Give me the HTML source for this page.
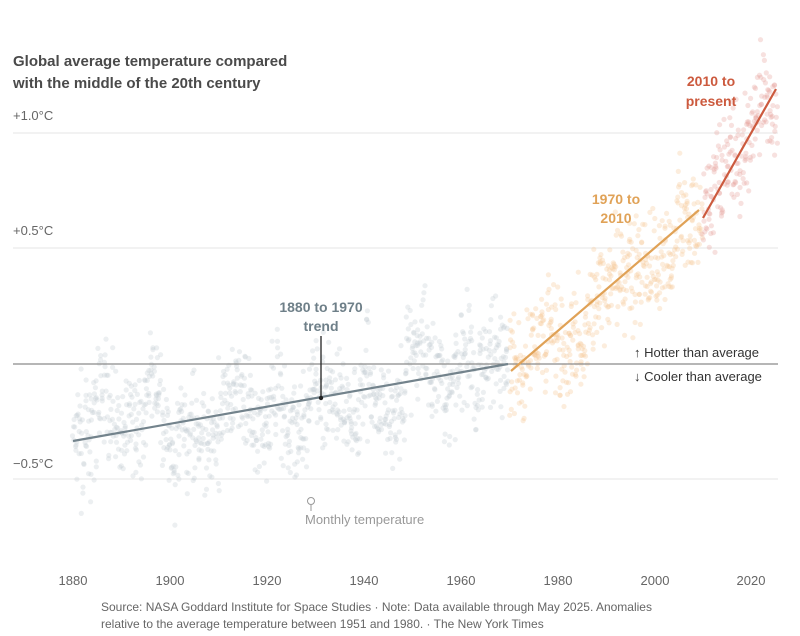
<!DOCTYPE html>
<html><head><meta charset="utf-8">
<style>
body{margin:0;background:#fff;width:800px;height:636px;overflow:hidden;font-family:"Liberation Sans",sans-serif}
</style></head><body>
<svg id="s" width="800" height="636" xmlns="http://www.w3.org/2000/svg" style="position:absolute;left:0;top:0">
<g stroke="#e6e6e6" stroke-width="1">
<line x1="13" y1="133" x2="778" y2="133"/>
<line x1="13" y1="248" x2="778" y2="248"/>
<line x1="13" y1="479" x2="778" y2="479"/>
</g>
<g id="dots"></g>
<line x1="13" y1="364" x2="778" y2="364" stroke="#8a8a8a" stroke-width="1.3"/>
<line x1="73" y1="441" x2="508" y2="364" stroke="#73838c" stroke-width="2.2"/>
<line x1="511" y1="371" x2="699" y2="210" stroke="#e0a257" stroke-width="2.2"/>
<line x1="703" y1="218" x2="776" y2="89" stroke="#cc5a3e" stroke-width="2.2"/>
<line x1="321" y1="336" x2="321" y2="398" stroke="#222" stroke-width="1.3"/>
<circle cx="321" cy="398" r="2.2" fill="#222"/>
<circle cx="311" cy="501" r="3.5" fill="#fff" stroke="#999" stroke-width="1"/>
<line x1="311" y1="505" x2="311" y2="511" stroke="#999"/>
<g font-family="Liberation Sans,sans-serif">
<text x="13" y="66" font-size="15" font-weight="bold" fill="#4a4a4a">Global average temperature compared</text>
<text x="13" y="88" font-size="15" font-weight="bold" fill="#4a4a4a">with the middle of the 20th century</text>
<text x="13" y="120" font-size="13" fill="#666">+1.0°C</text>
<text x="13" y="235" font-size="13" fill="#666">+0.5°C</text>
<text x="13" y="468" font-size="13" fill="#666">−0.5°C</text>
<g font-size="13" fill="#666" text-anchor="middle">
<text x="73" y="585">1880</text><text x="170" y="585">1900</text><text x="267" y="585">1920</text><text x="364" y="585">1940</text><text x="461" y="585">1960</text><text x="558" y="585">1980</text><text x="655" y="585">2000</text><text x="751" y="585">2020</text>
</g>
<g font-size="14" font-weight="bold" text-anchor="middle">
<text x="321" y="312" fill="#6e7f88">1880 to 1970</text>
<text x="321" y="331" fill="#6e7f88">trend</text>
<text x="616" y="204" fill="#e0a257">1970 to</text>
<text x="616" y="223" fill="#e0a257">2010</text>
<text x="711" y="86" fill="#cc5a3e">2010 to</text>
<text x="711" y="106" fill="#cc5a3e">present</text>
</g>
<text x="305" y="524" font-size="13" fill="#999">Monthly temperature</text>
<text x="634" y="357" font-size="13" fill="#333">↑ Hotter than average</text>
<text x="634" y="381" font-size="13" fill="#333">↓ Cooler than average</text>
<text x="101" y="611" font-size="12" fill="#666">Source: NASA Goddard Institute for Space Studies  ·  Note: Data available through May 2025. Anomalies</text>
<text x="101" y="628" font-size="12" fill="#666">relative to the average temperature between 1951 and 1980.  ·  The New York Times</text>
</g>
</svg>
<script>
var g=document.getElementById('dots'),seed=7;
function r(){seed=(seed*16807)%2147483647;return seed/2147483647;}
function n(){return (r()+r()+r()+r()-2)*1.73;}
var h='';
var drift=0;
for(var m=0;m<(2025-1880)*12+5;m++){
 var yr=1880+m/12,t,c;
 if(yr<1970){t=-0.333+0.333*(yr-1880)/90;c='#c3ced4';}
 else if(yr<2010){t=-0.03+0.7*(yr-1970)/40;c='#f5c795';}
 else{t=0.63+0.56*(yr-2010)/15;c='#e7a19b';}
 drift=drift*0.97+n()*0.02;
 var v=t+n()*0.11+drift+0.05*Math.sin(yr*0.7);
 var x=73+(yr-1880)*4.843+(r()-0.5)*2,y=364-v*231;
 h+='<circle cx="'+x.toFixed(1)+'" cy="'+y.toFixed(1)+'" r="2.6" fill="'+c+'" fill-opacity="0.32"/>';
}
g.innerHTML=h;
</script>
</body></html>
